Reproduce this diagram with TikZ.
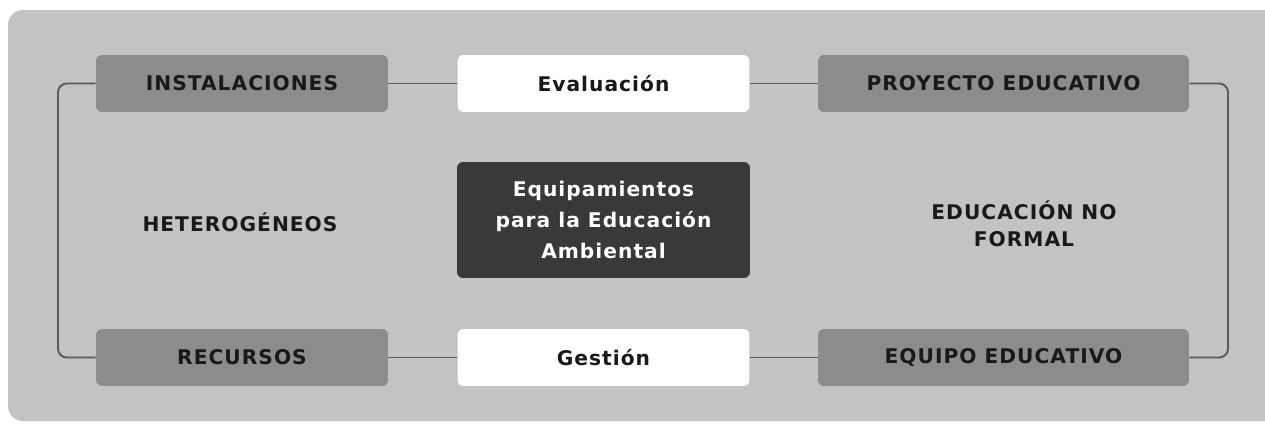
\documentclass[tikz,border=0pt]{standalone}
\usepackage{fontspec}
\setmainfont{DejaVu Sans}
\newfontfamily\rotulo[LetterSpace=5]{DejaVu Sans}
\definecolor{fondo}{HTML}{C3C3C3}
\definecolor{cajagris}{HTML}{8C8C8C}
\definecolor{cajaoscura}{HTML}{393939}
\definecolor{linea}{HTML}{5A5A5A}
\begin{document}
\begin{tikzpicture}[x=0.02cm,y=-0.02cm,
		every node/.style={font=\rotulo\bfseries\fontsize{11.5}{15.5}\selectfont,align=center},
		graybox/.style={rectangle,rounded corners=0.12cm,fill=cajagris,text=black!90,minimum width=5.84cm,minimum height=1.14cm},
		widebox/.style={graybox,minimum width=7.42cm},
		whitebox/.style={rectangle,rounded corners=0.12cm,fill=white,text=black!90,minimum width=5.84cm,minimum height=1.14cm},
		darkbox/.style={rectangle,rounded corners=0.12cm,fill=cajaoscura,text=white,minimum width=5.86cm,minimum height=2.32cm,
			font=\rotulo\bfseries\fontsize{11.5}{17.5}\selectfont},
		freetext/.style={text=black!90},
		conn/.style={draw=linea,line width=1.1pt,rounded corners=5pt}]
		
		\useasboundingbox (0,0) rectangle (1265,423);
		\fill[fondo,rounded corners=0.3cm] (8,10) rectangle (1290,421);
		
		\node[graybox]  (inst)  at (242,83.5)  {INSTALACIONES};
		\node[whitebox] (eval)  at (603.5,83.5) {Evaluación};
		\node[widebox]  (proy)  at (1003.5,83.5) {PROYECTO EDUCATIVO};
		\node[graybox]  (rec)   at (242,357.5) {RECURSOS};
		\node[whitebox] (gest)  at (603.5,357.5) {Gestión};
		\node[widebox]  (equi)  at (1003.5,357.5) {EQUIPO EDUCATIVO};
		\node[darkbox]  (equip) at (603.5,220) {Equipamientos\\para la Educación\\Ambiental};
		\node[freetext] (het)   at (240,222) {HETEROGÉNEOS};
		\node[freetext] (enf)   at (1024,224) {EDUCACIÓN NO\\FORMAL};
		
		\coordinate (lt) at (58,83.5);
		\coordinate (lb) at (58,357.5);
		\coordinate (rt) at (1228,83.5);
		\coordinate (rb) at (1228,357.5);
		
		\draw[conn] (inst) -- (eval);
		\draw[conn] (eval) -- (proy);
		\draw[conn] (rec) -- (gest);
		\draw[conn] (gest) -- (equi);
		\draw[conn] (inst.west) -- (lt) -- (lb) -- (rec.west);
		\draw[conn] (proy.east) -- (rt) -- (rb) -- (equi.east);
		\end{tikzpicture}
\end{document}
